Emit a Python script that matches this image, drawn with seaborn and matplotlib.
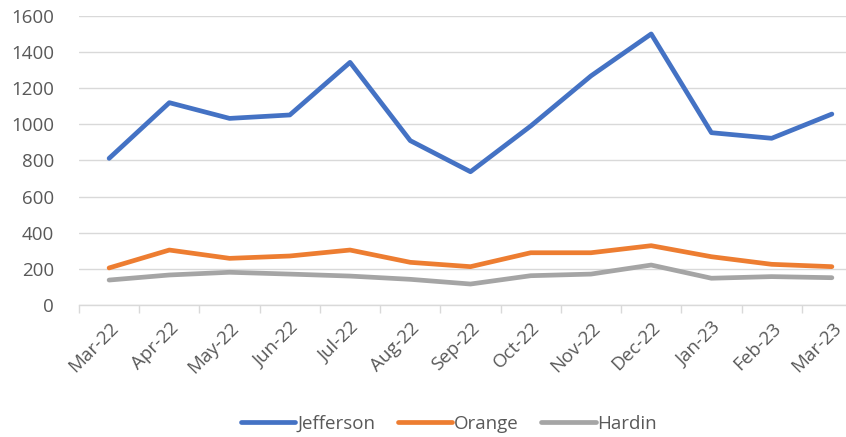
import matplotlib
matplotlib.use("Agg")
import matplotlib.pyplot as plt
import seaborn as sns
import pandas as pd
import numpy as np

months = ["Mar-22", "Apr-22", "May-22", "Jun-22", "Jul-22", "Aug-22", "Sep-22",
          "Oct-22", "Nov-22", "Dec-22", "Jan-23", "Feb-23", "Mar-23"]
jefferson = [811, 1119, 1032, 1051, 1342, 909, 737, 990, 1267, 1499, 953, 922, 1056]
orange = [205, 304, 258, 271, 304, 236, 212, 289, 289, 328, 267, 225, 212]
hardin = [138, 166, 181, 171, 160, 142, 116, 162, 171, 221, 148, 157, 151]
series_names = ["Jefferson", "Orange", "Hardin"]
colors = ["#4472C4", "#ED7D31", "#A5A5A5"]
y_ticks = [0, 200, 400, 600, 800, 1000, 1200, 1400, 1600]

rows = []
for name, vals in zip(series_names, [jefferson, orange, hardin]):
    for i, (m, v) in enumerate(zip(months, vals)):
        rows.append({"idx": i, "month": m, "value": v, "county": name})
df = pd.DataFrame(rows)

sns.set_theme(style="white")
plt.rcParams["font.family"] = ["Open Sans", "DejaVu Sans"]

fig = plt.figure(figsize=(8.46, 4.37), dpi=100)
ax = fig.add_axes([79 / 846, 1 - 305 / 437, (862 - 79) / 846, (305 - 15.7) / 437])

sns.lineplot(data=df, x="idx", y="value", hue="county", hue_order=series_names,
             palette=colors, linewidth=3.4, ax=ax, legend=True, sort=False)

fs = 13.5
ax.set_xlim(-0.5, len(months) - 0.5)
ax.set_ylim(0, 1600)
ax.set_yticks(y_ticks)
ax.set_yticklabels([str(t) for t in y_ticks], color="#595959", fontsize=fs)
ax.yaxis.grid(True, color="#D9D9D9", linewidth=1.0)
ax.set_axisbelow(True)
ax.tick_params(axis="y", length=0, pad=18)

ax.set_xticks(np.arange(len(months)))
ax.set_xticklabels(months, rotation=45, ha="right", va="top",
                   rotation_mode="anchor", color="#595959", fontsize=fs)
ax.set_xticks(np.arange(len(months) + 1) - 0.5, minor=True)
ax.tick_params(axis="x", which="major", length=0, pad=10)
ax.tick_params(axis="x", which="minor", length=6, color="#D9D9D9", width=1, bottom=True)

for s in ["top", "right", "left"]:
    ax.spines[s].set_visible(False)
ax.spines["bottom"].set_color("#D9D9D9")
ax.spines["bottom"].set_linewidth(1.0)

ax.set_xlabel("")
ax.set_ylabel("")

handles, labels = ax.get_legend_handles_labels()
leg = ax.legend(handles, labels, loc="center", bbox_to_anchor=(449 / 846, 1 - 424 / 437),
                bbox_transform=fig.transFigure, ncol=3, frameon=False,
                handlelength=2.9, handletextpad=0.1, columnspacing=1.2, fontsize=fs)
for t in leg.get_texts():
    t.set_color("#595959")
for h in leg.get_lines():
    h.set_linewidth(3.4)

fig.savefig("out.png", dpi=100)
